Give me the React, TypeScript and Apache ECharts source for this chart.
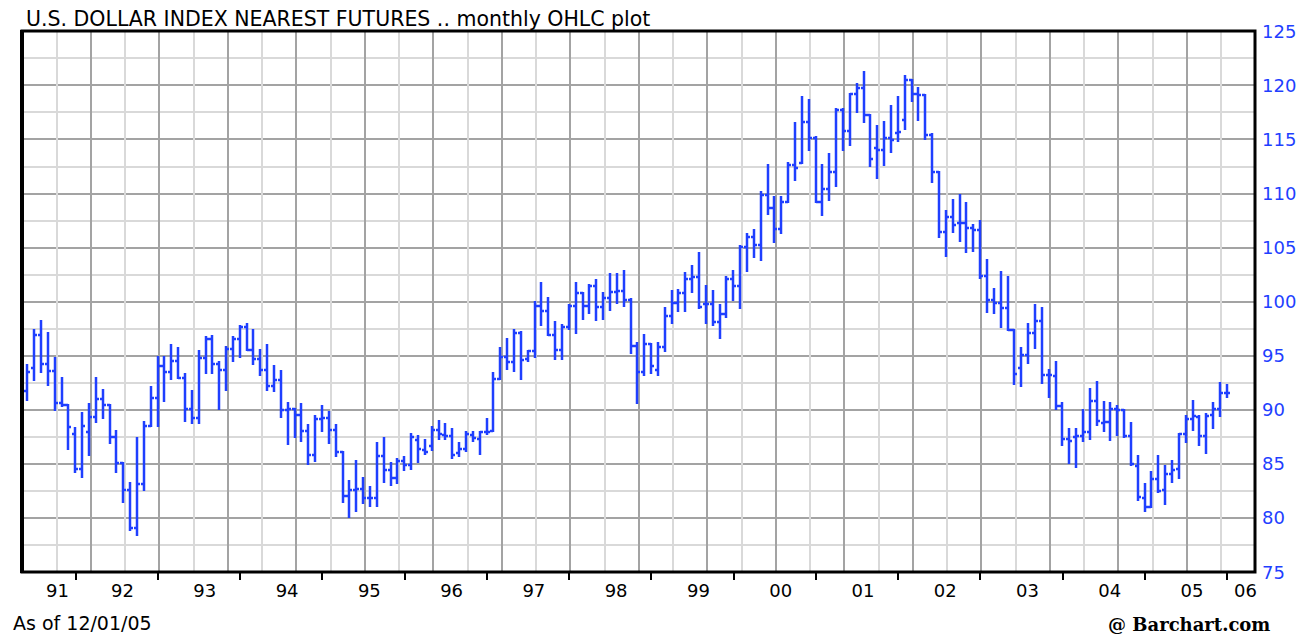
import React, { useEffect, useRef } from 'react';
import * as echarts from 'echarts';

// Monthly bars, first bar = May 1991 (month index 4 counted from Jan 1991), last = Dec 2005
const FIRST_MONTH_INDEX = 4;

const opens = [
  91.7, 93.9, 96.9, 94.2, 93.6, 90.6, 90.4, 87.8, 84.5, 87.9,
  89.3, 91.0, 90.4, 87.5, 85.1, 82.6, 79.1, 83.1, 88.5, 91.1,
  94.0, 93.5, 94.5, 92.9, 90.1, 89.2, 94.8, 96.5, 94.2, 93.7,
  95.6, 96.5, 97.6, 95.5, 94.7, 93.7, 92.2, 92.7, 90.0, 90.1,
  89.5, 88.0, 85.8, 89.1, 89.2, 88.1, 86.1, 82.0, 82.6, 82.7,
  81.8, 81.8, 85.7, 84.4, 83.7, 85.3, 84.9, 87.2, 86.3, 86.6,
  88.1, 87.7, 87.6, 86.0, 86.4, 87.7, 87.3, 87.9, 88.0, 92.8,
  94.9, 94.4, 97.1, 94.7, 95.4, 99.6, 99.1, 96.9, 95.5, 97.6,
  99.6, 100.8, 99.6, 101.4, 99.5, 100.3, 100.9, 101.0, 100.1, 95.9,
  93.5, 96.1, 93.7, 95.8, 98.7, 99.9, 100.8, 102.1, 102.3, 99.8,
  99.8, 98.1, 98.8, 102.1, 101.4, 105.0, 106.0, 105.2, 109.8, 108.6,
  106.7, 109.2, 112.6, 112.8, 116.6, 115.1, 109.2, 110.4, 112.0, 117.7,
  115.8, 119.2, 119.7, 117.2, 114.2, 114.0, 115.1, 115.6, 116.8, 120.5,
  119.2, 119.1, 115.4, 112.0, 106.4, 107.8, 107.3, 107.3, 106.8, 106.6,
  102.4, 100.1, 99.9, 99.4, 97.4, 93.9, 95.1, 97.1, 98.2, 93.2,
  93.1, 90.3, 87.3, 87.5, 87.6, 87.9, 90.8, 88.8, 88.9, 90.1,
  90.0, 87.6, 84.8, 81.8, 81.0, 83.6, 82.6, 84.1, 84.5, 87.8,
  89.1, 89.3, 87.6, 89.5, 90.1, 91.5,
];

const highs = [
  94.1, 97.4, 98.2, 97.1, 94.8, 92.9, 90.4, 88.3, 89.7, 90.5,
  92.9, 91.8, 90.4, 88.0, 85.1, 83.2, 87.4, 88.9, 92.1, 94.9,
  94.9, 96.0, 95.7, 93.3, 91.7, 95.4, 96.7, 96.8, 94.4, 95.8,
  96.7, 97.7, 97.9, 97.4, 95.5, 96.0, 94.0, 93.6, 90.6, 90.1,
  90.5, 88.6, 89.4, 90.3, 89.8, 88.6, 86.1, 83.4, 85.3, 83.7,
  82.9, 86.9, 87.4, 85.1, 85.4, 85.6, 87.8, 87.6, 87.2, 88.4,
  89.0, 88.7, 88.2, 86.9, 87.9, 87.9, 87.9, 89.1, 93.4, 95.7,
  96.5, 97.4, 97.2, 95.4, 100.0, 101.7, 100.3, 98.1, 97.8, 99.7,
  101.7, 100.8, 101.5, 102.0, 100.8, 102.5, 102.5, 102.8, 100.2, 96.2,
  96.9, 96.1, 96.2, 99.4, 101.0, 101.1, 102.6, 103.3, 104.5, 101.4,
  101.0, 99.7, 102.3, 102.8, 105.1, 106.2, 106.6, 110.1, 112.6, 109.7,
  109.7, 112.8, 116.5, 118.9, 118.6, 115.2, 112.6, 113.6, 117.8, 117.8,
  119.2, 120.1, 121.2, 117.2, 116.2, 116.6, 118.1, 118.9, 120.8, 120.5,
  119.7, 119.1, 115.5, 112.0, 108.4, 109.4, 109.8, 109.1, 107.1, 107.4,
  103.8, 101.2, 102.7, 102.3, 97.4, 95.7, 97.9, 99.7, 99.4, 93.7,
  94.4, 90.6, 88.2, 88.2, 90.0, 91.9, 92.6, 90.7, 90.6, 90.3,
  90.0, 88.8, 85.7, 83.1, 84.2, 85.7, 84.8, 85.3, 87.8, 89.4,
  90.8, 89.4, 89.6, 90.6, 92.5, 92.3,
];

const lows = [
  90.9, 92.7, 93.5, 92.3, 90.0, 90.3, 86.4, 84.2, 83.8, 85.8,
  88.9, 89.2, 86.9, 84.2, 81.5, 78.9, 78.4, 82.6, 88.5, 88.5,
  90.8, 92.8, 92.9, 89.0, 88.8, 88.8, 93.4, 93.4, 90.1, 91.8,
  94.5, 94.9, 95.5, 94.2, 93.2, 91.8, 91.7, 89.3, 86.8, 87.5,
  87.1, 85.0, 85.3, 88.0, 86.9, 85.7, 81.5, 80.1, 80.6, 81.4,
  81.1, 81.1, 83.3, 83.0, 83.2, 84.4, 84.5, 85.2, 85.9, 86.3,
  87.3, 87.3, 85.5, 85.7, 86.2, 87.1, 85.9, 87.8, 88.0, 92.8,
  93.8, 93.6, 92.8, 94.5, 94.9, 97.8, 96.9, 94.7, 94.7, 97.5,
  97.1, 98.4, 98.9, 98.3, 98.4, 99.2, 99.9, 99.6, 95.2, 90.6,
  93.2, 93.4, 93.2, 95.4, 98.0, 99.1, 99.1, 100.9, 99.4, 98.0,
  97.8, 96.6, 98.6, 100.1, 99.4, 102.8, 104.1, 103.8, 108.1, 105.5,
  106.3, 109.2, 111.2, 112.8, 114.0, 109.2, 108.0, 109.4, 110.7, 114.0,
  114.5, 117.5, 116.6, 112.5, 111.4, 112.6, 113.8, 114.8, 115.9, 118.5,
  116.8, 115.0, 111.0, 106.0, 104.2, 106.4, 105.6, 104.6, 104.7, 102.2,
  99.0, 98.9, 97.6, 97.4, 92.4, 92.2, 94.3, 95.7, 92.5, 91.2,
  90.1, 86.7, 85.1, 84.7, 87.1, 87.3, 88.6, 88.0, 87.2, 87.7,
  87.5, 84.9, 81.7, 80.6, 81.0, 82.4, 81.3, 83.3, 83.7, 87.0,
  88.1, 86.7, 86.0, 88.3, 89.4, 91.2,
];

const closes = [
  93.5, 96.9, 94.2, 93.6, 90.6, 90.4, 88.4, 84.5, 88.5, 89.3,
  91.0, 90.4, 87.5, 85.1, 82.6, 79.1, 83.1, 88.5, 91.1, 94.0,
  93.5, 94.5, 92.9, 90.1, 89.2, 94.8, 96.5, 94.2, 93.7, 95.6,
  96.5, 97.6, 95.5, 94.7, 93.7, 92.2, 92.7, 90.0, 90.1, 89.5,
  88.0, 85.8, 89.1, 89.2, 88.1, 86.1, 82.0, 82.6, 82.7, 81.8,
  81.8, 85.7, 84.4, 83.7, 85.3, 84.9, 87.5, 86.4, 86.1, 88.1,
  87.8, 87.6, 85.8, 86.4, 87.8, 87.4, 87.9, 87.9, 92.8, 94.9,
  94.4, 97.1, 94.6, 95.4, 99.6, 99.1, 96.9, 95.5, 97.6, 99.6,
  100.8, 99.6, 101.4, 99.5, 100.3, 100.9, 101.0, 100.1, 95.9, 93.5,
  96.1, 94.0, 95.8, 98.7, 99.9, 100.8, 102.1, 102.3, 99.5, 99.8,
  98.1, 98.8, 102.1, 101.4, 105.0, 106.0, 105.2, 109.8, 108.6, 106.7,
  109.2, 112.6, 112.3, 116.6, 115.1, 109.2, 110.4, 112.0, 117.7, 115.8,
  119.2, 119.7, 117.2, 113.2, 114.0, 115.1, 114.9, 115.7, 120.5, 119.2,
  119.1, 115.4, 112.0, 106.4, 107.8, 107.1, 107.3, 106.8, 106.6, 102.4,
  100.1, 99.9, 99.4, 97.4, 93.3, 95.1, 97.1, 98.2, 93.2, 93.2,
  90.3, 87.3, 87.1, 87.6, 87.9, 90.8, 89.0, 88.9, 90.1, 90.0,
  87.6, 85.0, 81.9, 81.0, 83.6, 82.5, 84.1, 84.4, 87.8, 89.1,
  89.4, 87.6, 89.4, 90.1, 91.5, 91.5,
];

const yearLabels = ['91', '92', '93', '94', '95', '96', '97', '98', '99', '00', '01', '02', '03', '04', '05', '06'];

const TITLE = 'U.S. DOLLAR INDEX NEAREST FUTURES .. monthly OHLC plot';
const AS_OF = 'As of 12/01/05';
const SOURCE = '@ Barchart.com';

const BAR_COLOR = '#1f3fff';
const GRID_DARK = '#a3a3a3';
const GRID_LIGHT = '#d9d9d9';
const FONT = '"DejaVu Sans", sans-serif';

const W = 1309;
const H = 634;
const G_LEFT = 22;
const G_TOP = 31;
const G_RIGHT = 1255;
const G_BOTTOM = 572;

export default function App() {
  const ref = useRef<HTMLDivElement>(null);

  useEffect(() => {
    if (!ref.current) return;
    const chart = echarts.init(ref.current, null, { renderer: 'svg' });

    const data = opens.map((o, i) => [FIRST_MONTH_INDEX + i, o, highs[i], lows[i], closes[i]]);

    // December bars carry the year-end ticks
    const tickValues = yearLabels.slice(0, 15).map((_, i) => 11 + 12 * i);
    // label positions: mid-year, first and last adjusted to the visible span
    const labelValues = yearLabels.map((_, i) => {
      if (i === 0) return 8.4;
      if (i === yearLabels.length - 1) return 12 * i + 1.7;
      return 12 * i + 5.9;
    });

    const option: any = {
      animation: false,
      backgroundColor: '#ffffff',
      grid: {
        left: G_LEFT,
        top: G_TOP,
        right: W - G_RIGHT,
        bottom: H - G_BOTTOM,
      },
      xAxis: [
        {
          type: 'value',
          min: 3.23,
          max: 183.1,
          position: 'bottom',
          axisLine: { show: false },
          splitLine: { show: false },
          axisTick: {
            show: true,
            customValues: tickValues,
            length: 8,
            inside: false,
            lineStyle: { color: '#000', width: 2 },
          },
          axisLabel: {
            show: true,
            customValues: labelValues,
            margin: 9,
            color: '#000',
            fontSize: 18,
            fontFamily: FONT,
            formatter: (v: number) => yearLabels[Math.floor(v / 12)] ?? '',
          },
        },
        {
          type: 'value',
          min: 0,
          max: 36,
          interval: 1,
          position: 'top',
          axisLine: { show: false },
          axisTick: { show: false },
          axisLabel: { show: false },
          splitLine: { show: true, lineStyle: { color: [GRID_DARK, GRID_LIGHT], width: 2 } },
        },
      ],
      yAxis: [
        {
          type: 'value',
          position: 'right',
          min: 75,
          max: 125,
          interval: 2.5,
          axisLine: { show: false },
          axisTick: { show: false },
          splitLine: { show: true, lineStyle: { color: [GRID_DARK, GRID_LIGHT], width: 2 } },
          axisLabel: {
            margin: 7,
            color: BAR_COLOR,
            fontSize: 18,
            fontFamily: FONT,
            showMinLabel: true,
            showMaxLabel: true,
            formatter: (v: number) => (v % 5 === 0 ? String(v) : ''),
          },
        },
      ],
      series: [
        {
          type: 'custom',
          xAxisIndex: 0,
          yAxisIndex: 0,
          data,
          encode: { x: 0, y: [1, 2, 3, 4] },
          z: 5,
          renderItem: (params: any, api: any) => {
            const t = api.value(0);
            const pO = api.coord([t, api.value(1)]);
            const pH = api.coord([t, api.value(2)]);
            const pL = api.coord([t, api.value(3)]);
            const pC = api.coord([t, api.value(4)]);
            const w = Math.round(api.size([1, 0])[0] * 0.5);
            const x = Math.round(pH[0]);
            const yO = Math.round(pO[1]);
            const yC = Math.round(pC[1]);
            const style = { stroke: BAR_COLOR, lineWidth: 2.5, fill: 'none' };
            return {
              type: 'group',
              children: [
                { type: 'line', shape: { x1: x, y1: Math.round(pH[1]) - 1, x2: x, y2: Math.round(pL[1]) + 1 }, style },
                { type: 'line', shape: { x1: x - w, y1: yO, x2: x, y2: yO }, style },
                { type: 'line', shape: { x1: x, y1: yC, x2: x + w, y2: yC }, style },
              ],
            };
          },
        },
      ],
      graphic: [
        {
          type: 'rect',
          z: 100,
          shape: { x: G_LEFT, y: G_TOP, width: G_RIGHT - G_LEFT, height: G_BOTTOM - G_TOP },
          style: { fill: 'none', stroke: '#000', lineWidth: 3 },
          silent: true,
        },
        {
          type: 'line',
          z: 101,
          shape: { x1: G_LEFT, y1: G_TOP - 1, x2: G_LEFT, y2: G_BOTTOM + 1 },
          style: { stroke: '#000', lineWidth: 4 },
          silent: true,
        },
        {
          type: 'text',
          z: 100,
          x: 26,
          y: 19,
          style: {
            text: TITLE,
            fill: '#000',
            fontSize: 20.5,
            fontFamily: FONT,
            verticalAlign: 'middle',
          },
        },
        {
          type: 'text',
          z: 100,
          x: 13,
          y: 623,
          style: {
            text: AS_OF,
            fill: '#000',
            fontSize: 19,
            fontFamily: FONT,
            verticalAlign: 'middle',
          },
        },
        {
          type: 'text',
          z: 100,
          x: 1108,
          y: 624,
          style: {
            text: SOURCE,
            fill: '#000',
            fontSize: 18,
            fontWeight: 'bold',
            fontFamily: '"DejaVu Serif", serif',
            verticalAlign: 'middle',
          },
        },
      ],
    };

    chart.setOption(option);
    return () => chart.dispose();
  }, []);

  return (
    <div
      ref={ref}
      style={{ position: 'absolute', left: 0, top: 0, width: W, height: H, background: '#fff' }}
    />
  );
}
